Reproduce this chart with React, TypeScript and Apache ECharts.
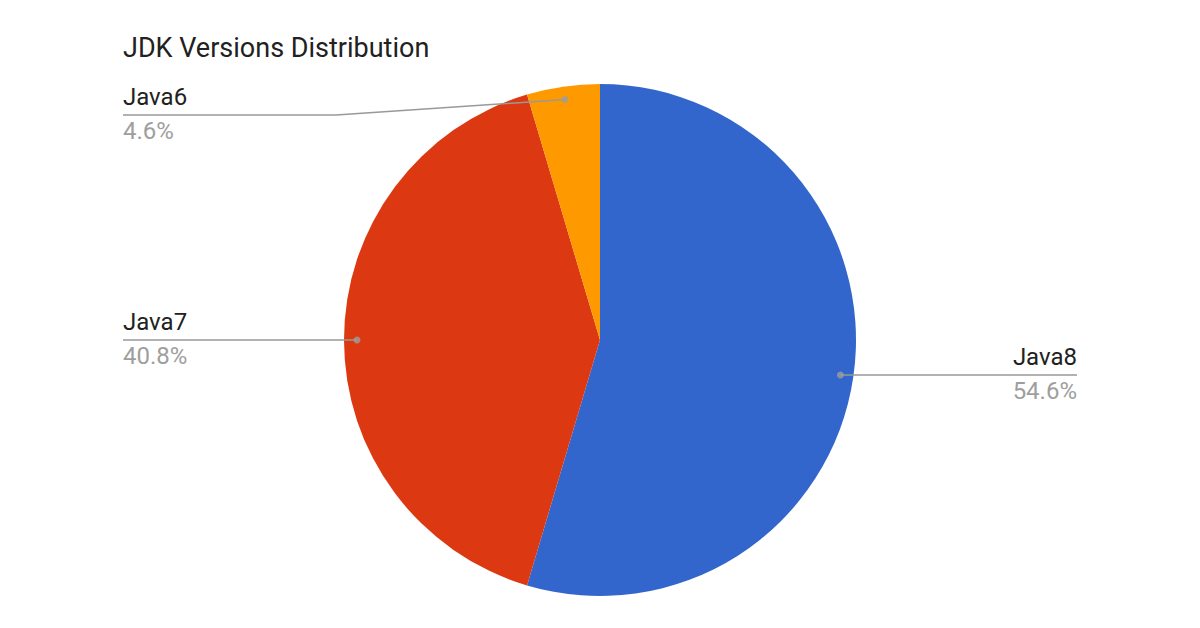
import React, { useEffect, useRef } from 'react';
import * as echarts from 'echarts';

const titleText = 'JDK Versions Distribution';
const categories = ['Java8', 'Java7', 'Java6'];
const shares = [54.6, 40.8, 4.6];
const colors = ['#3366CC', '#DC3912', '#FF9900'];

const CX = 600;
const CY = 340;
const R = 256;
const ANCHOR_R = 243;
const LEFT_EDGE = 123;
const RIGHT_EDGE = 1077;
const LABEL_MIN_Y = 115;
const ELBOW_GAP = 8;

export default function App() {
  const ref = useRef<HTMLDivElement>(null);
  useEffect(() => {
    const chart = echarts.init(ref.current!, null, { renderer: 'svg' });
    const total = shares.reduce((a, b) => a + b, 0);
    const mids: number[] = [];
    let acc = 0;
    shares.forEach((v) => {
      mids.push(acc + v / 2);
      acc += v;
    });
    const pieData = (transparent: boolean) =>
      categories.map((c, i) => ({
        name: c,
        value: shares[i],
        itemStyle: { color: transparent ? 'rgba(0,0,0,0)' : colors[i] },
      }));
    chart.setOption({
      animation: false,
      backgroundColor: '#ffffff',
      textStyle: { fontFamily: 'Roboto' },
      title: {
        text: titleText,
        left: 123,
        top: 34,
        padding: 0,
        textStyle: { fontSize: 27, fontWeight: 'normal', color: '#212121', fontFamily: 'Roboto' },
      },
      polar: { center: [CX, CY], radius: ANCHOR_R },
      angleAxis: { type: 'value', min: 0, max: total, startAngle: 90, clockwise: true, show: false },
      radiusAxis: { type: 'value', min: 0, max: 1, show: false },
      series: [
        {
          type: 'pie',
          center: [CX, CY],
          radius: R,
          startAngle: 90,
          clockwise: true,
          silent: true,
          z: 1,
          emphasis: { disabled: true },
          itemStyle: { borderWidth: 0 },
          data: pieData(false),
          label: { show: false },
          labelLine: { show: false },
        },
        {
          type: 'pie',
          center: [CX, CY],
          radius: R,
          startAngle: 90,
          clockwise: true,
          percentPrecision: 1,
          silent: true,
          z: 2,
          emphasis: { disabled: true },
          itemStyle: { borderWidth: 0 },
          data: pieData(true),
          label: {
            show: true,
            position: 'outside',
            formatter: '{n|{b}}\n{p|{d}%}',
            rich: {
              n: { fontSize: 24, color: '#212121', lineHeight: 34, fontFamily: 'Roboto' },
              p: { fontSize: 24, color: '#9e9e9e', lineHeight: 34, fontFamily: 'Roboto' },
            },
          },
          labelLine: { show: true, length: 10, length2: 10, smooth: false, lineStyle: { color: '#999999', width: 1.5 } },
          labelLayout: (params: any) => {
            const pts = params.labelLinePoints;
            if (!pts) return {};
            const p0 = pts[0];
            const dx = p0[0] - CX;
            const dy = p0[1] - CY;
            const len = Math.hypot(dx, dy) || 1;
            const ax = CX + (dx / len) * ANCHOR_R;
            const ay = CY + (dy / len) * ANCHOR_R;
            const left = ax < CX;
            const y = Math.max(ay, LABEL_MIN_Y);
            const elbowX = left ? CX - R - ELBOW_GAP : CX + R + ELBOW_GAP;
            const edgeX = left ? LEFT_EDGE : RIGHT_EDGE;
            return {
              x: edgeX,
              y: y - 1,
              align: left ? 'left' : 'right',
              verticalAlign: 'middle',
              labelLinePoints: [
                [ax, ay],
                [elbowX, y],
                [edgeX, y],
              ],
            };
          },
        },
        {
          type: 'scatter',
          coordinateSystem: 'polar',
          data: mids.map((m) => [1, m]),
          symbolSize: 7,
          itemStyle: { color: '#9e9e9e' },
          silent: true,
          z: 3,
        },
      ],
    });
    return () => chart.dispose();
  }, []);
  return (
    <div
      ref={ref}
      style={{ position: 'absolute', left: 0, top: 0, width: 1200, height: 628 }}
    />
  );
}
